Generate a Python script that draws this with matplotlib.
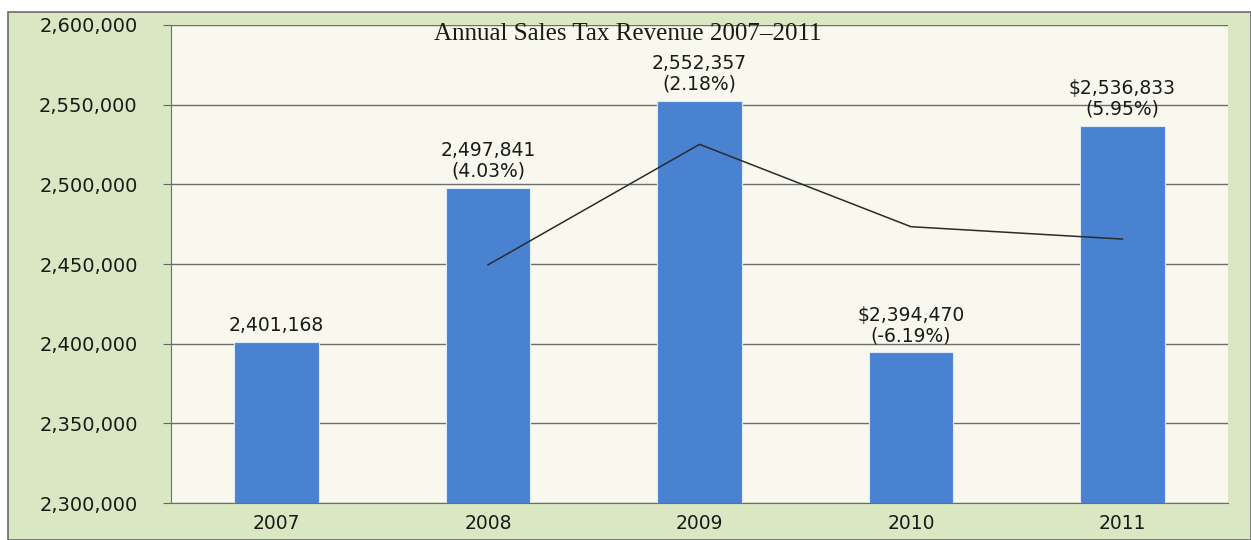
import matplotlib.pyplot as plt
from matplotlib.patches import Rectangle

years = ['2007', '2008', '2009', '2010', '2011']
revenue = [2401168, 2497841, 2552357, 2394470, 2536833]
bar_labels = ['2,401,168', '2,497,841\n(4.03%)', '2,552,357\n(2.18%)',
              '$2,394,470\n(-6.19%)', '$2,536,833\n(5.95%)']
# two-year moving average, starting at 2008
avg_years = ['2008', '2009', '2010', '2011']
avg_values = [2449505, 2525099, 2473414, 2465652]

W, H = 1251, 540
fig = plt.figure(figsize=(W / 100, H / 100), dpi=100, facecolor='white')

# green chart frame, kept behind the axes
frame = Rectangle((8 / W, 0), 1 - 8 / W, (H - 12) / H, transform=fig.transFigure,
                  facecolor='#d9e7c3', edgecolor='#6b6b6b', linewidth=1.2, zorder=-5)
fig.add_artist(frame)

ax = fig.add_axes([171 / W, 37 / H, (1228 - 171) / W, (503 - 25) / H])
ax.set_zorder(2)
ax.set_facecolor('#f8f8ee')

x = list(range(len(years)))
ax.bar(x, revenue, width=0.4, color='#4a82d2', edgecolor='#dfe9f7', linewidth=0.8, zorder=2)
ax.plot([years.index(y) for y in avg_years], avg_values, color='#2b2b2b', linewidth=1.1, zorder=3)

for xi, v, lab in zip(x, revenue, bar_labels):
    ax.annotate(lab, (xi, v), xytext=(0, 5), textcoords='offset points', ha='center', va='bottom',
                fontsize=13.5, color='#1a1a1a', linespacing=1.12, zorder=4)

ax.set_ylim(2300000, 2600000)
ax.set_xlim(-0.5, 4.5)
ax.set_yticks(range(2300000, 2600001, 50000))
ax.yaxis.set_major_formatter(plt.FuncFormatter(lambda v, p: f'{int(v):,}'))
ax.set_xticks(x)
ax.set_xticklabels(years)
ax.tick_params(axis='y', labelsize=14, length=6, color='#666666', pad=18, labelcolor='#1a1a1a')
ax.tick_params(axis='x', labelsize=13.5, length=0, pad=8, labelcolor='#1a1a1a')
ax.grid(axis='y', color='#6e6e6e', linewidth=1.0, zorder=1)
ax.set_axisbelow(True)
for s in ['top', 'right']:
    ax.spines[s].set_visible(False)
for s in ['left', 'bottom']:
    ax.spines[s].set_color('#6e6e6e')

ax.text(0.432, 1.005, 'Annual Sales Tax Revenue 2007\u20132011', transform=ax.transAxes,
        ha='center', va='top', fontsize=18, family='Liberation Serif', color='#1a1a1a')

fig.savefig('out.png', dpi=100, facecolor=fig.get_facecolor())
